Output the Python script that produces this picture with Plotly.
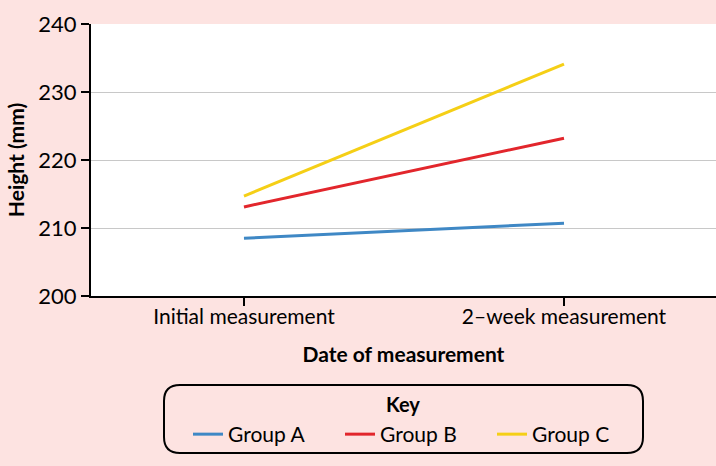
import plotly.graph_objects as go

categories = ["Initial measurement", "2\u2013week measurement"]
group_names = ["Group A", "Group B", "Group C"]
group_a = [208.5, 210.7]
group_b = [213.1, 223.2]
group_c = [214.7, 234.1]
y_ticks = [200, 210, 220, 230, 240]

colors = ["#3f88c5", "#e2262c", "#f5cf16"]
W, H = 716, 466
ml, mr, mt, mb = 91, 0, 24, 170
pw, ph = W - ml - mr, H - mt - mb

fig = go.Figure()
for name, vals, col in zip(group_names, [group_a, group_b, group_c], colors):
    fig.add_trace(go.Scatter(x=[0, 1], y=vals, mode="lines", name=name,
                             line=dict(color=col, width=3)))

FONT = "Lato"
fig.update_layout(
    width=W, height=H,
    margin=dict(l=ml, r=mr, t=mt, b=mb),
    paper_bgcolor="#fde3e1",
    plot_bgcolor="white",
    font=dict(family=FONT, size=21, color="black"),
    xaxis=dict(
        range=[-0.478, 1.475],
        tickmode="array", tickvals=[0, 1], ticktext=categories,
        showgrid=False, showline=True, linecolor="black", linewidth=2,
        ticks="outside", ticklen=8, tickwidth=2, tickcolor="black",
        tickfont=dict(size=21), ticklabelstandoff=-7,
        title=dict(text="<b>Date of measurement</b>", font=dict(size=21), standoff=20),
        zeroline=False,
    ),
    yaxis=dict(
        range=[200, 240],
        tickvals=y_ticks,
        showgrid=True, gridcolor="#c8c8c8", gridwidth=1,
        showline=True, linecolor="black", linewidth=2,
        ticks="outside", ticklen=8, tickwidth=2, tickcolor="black",
        tickfont=dict(size=22),
        title=dict(text="<b>Height (mm)</b>", font=dict(size=21), standoff=8),
        zeroline=False,
    ),
    showlegend=True,
    legend=dict(
        orientation="h",
        x=(416 - ml) / pw, xanchor="center",
        y=(296 - 414) / ph, yanchor="top",
        font=dict(size=21),
        bgcolor="rgba(0,0,0,0)",
        entrywidth=107,
        itemwidth=30,
    ),
)

fig.add_annotation(text="<b>Key</b>", xref="paper", yref="paper",
                   x=(403 - ml) / pw, y=(296 - 404) / ph,
                   xanchor="center", yanchor="middle", showarrow=False,
                   font=dict(size=20))

# rounded legend frame
x0, x1 = (164 - ml) / pw, (643 - ml) / pw
y0, y1 = (296 - 453) / ph, (296 - 385) / ph
rx, ry = 16 / pw, 16 / ph
path = (f"M {x0+rx},{y1} L {x1-rx},{y1} Q {x1},{y1} {x1},{y1-ry} "
        f"L {x1},{y0+ry} Q {x1},{y0} {x1-rx},{y0} L {x0+rx},{y0} "
        f"Q {x0},{y0} {x0},{y0+ry} L {x0},{y1-ry} Q {x0},{y1} {x0+rx},{y1} Z")
fig.add_shape(type="path", path=path, xref="paper", yref="paper",
              line=dict(color="black", width=2), fillcolor="rgba(0,0,0,0)")

fig.write_html("out.html")
